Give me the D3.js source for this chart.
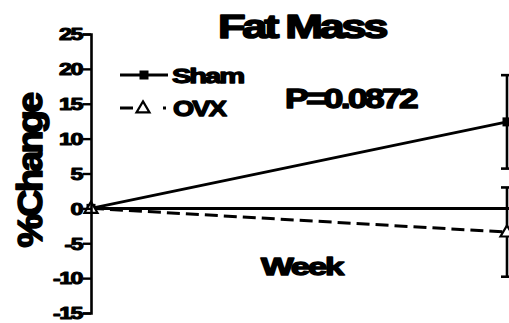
<!DOCTYPE html>
<html>
<head>
<meta charset="utf-8">
<script src="https://cdn.jsdelivr.net/npm/d3@7"></script>
<style>
  html, body { margin: 0; padding: 0; background: #fff; }
  svg { display: block; }
  text { font-family: "Liberation Sans", Arial, sans-serif; font-weight: bold; fill: #000;
         stroke: #000; stroke-linejoin: round; }
</style>
</head>
<body>
<svg id="chart" width="509" height="323"></svg>
<script>
// Fat mass, % change from baseline per group
const weeks = [0, 8];
const groups = ["Sham", "OVX"];
const shamMean = [0, 12.4];
const shamErr = [0, 6.7];
const ovxMean = [0, -3.4];
const ovxErr = [0, 6.4];
const yTicks = [25, 20, 15, 10, 5, 0, -5, -10, -15];
const titleText = "Fat Mass";
const pText = "P=0.0872";
const xLabel = "Week";
const yLabel = "%Change";

const svg = d3.select("#chart");
const W = 509, H = 323;

const x = d3.scaleLinear().domain([weeks[0], weeks[1]]).range([91, 507]);
const y = d3.scaleLinear().domain([-15, 25]).range([313, 34]);

// clip everything to the canvas so the right-hand point is cut at the edge
svg.append("defs").append("clipPath").attr("id", "plotclip")
  .append("rect").attr("x", 0).attr("y", 0).attr("width", W).attr("height", H);
const plot = svg.append("g").attr("clip-path", "url(#plotclip)");

// heavy condensed text helper
function label(g, str, xPos, yPos, size, len, sw, ls) {
  return g.append("text")
    .attr("x", xPos).attr("y", yPos)
    .attr("font-size", size)
    .attr("letter-spacing", ls)
    .attr("textLength", len)
    .attr("lengthAdjust", "spacingAndGlyphs")
    .attr("stroke-width", sw)
    .text(str);
}

// zero line (x axis)
plot.append("line")
  .attr("x1", x(weeks[0])).attr("x2", W + 5)
  .attr("y1", y(0)).attr("y2", y(0))
  .attr("stroke", "#000").attr("stroke-width", 3);

// y axis
const yAxis = d3.axisLeft(y).tickValues(yTicks).tickSize(8).tickPadding(1).tickFormat(d => String(d));
const ga = svg.append("g").attr("transform", `translate(${x(weeks[0])},0)`).call(yAxis);
ga.select(".domain").attr("stroke", "#000").attr("stroke-width", 2.6);
ga.selectAll(".tick line").attr("stroke", "#000").attr("stroke-width", 2.4);
ga.selectAll(".tick text")
  .attr("font-size", 16)
  .attr("font-family", "Liberation Sans, Arial, sans-serif")
  .attr("font-weight", "bold")
  .attr("fill", "#000")
  .attr("stroke", "#000")
  .attr("stroke-width", 1)
  .attr("letter-spacing", -1)
  .attr("dy", "0.36em")
  .attr("lengthAdjust", "spacingAndGlyphs")
  .attr("textLength", d => {
    const s = String(Math.abs(d));
    return s.length * 11.5 + (d < 0 ? 6 : 0);
  });

// series lines
const line = d3.line().x((d, i) => x(weeks[i])).y(d => y(d));
plot.append("path").datum(shamMean)
  .attr("d", line).attr("fill", "none")
  .attr("stroke", "#000").attr("stroke-width", 3);
plot.append("path").datum(ovxMean)
  .attr("d", line).attr("fill", "none")
  .attr("stroke", "#000").attr("stroke-width", 3)
  .attr("stroke-dasharray", "13,6");

// error bars
function errorBars(means, errs) {
  means.forEach((m, i) => {
    const e = errs[i];
    if (!e) return;
    const cx = x(weeks[i]);
    plot.append("line").attr("x1", cx).attr("x2", cx)
      .attr("y1", y(m + e)).attr("y2", y(m - e))
      .attr("stroke", "#000").attr("stroke-width", 2.6);
    [m + e, m - e].forEach(v => {
      plot.append("line").attr("x1", cx - 6).attr("x2", cx + 6)
        .attr("y1", y(v)).attr("y2", y(v))
        .attr("stroke", "#000").attr("stroke-width", 2.6);
    });
  });
}
errorBars(shamMean, shamErr);
errorBars(ovxMean, ovxErr);

// markers
const sq = 9;
function square(g, cx, cy) {
  g.append("rect").attr("x", cx - sq / 2).attr("y", cy - sq / 2)
    .attr("width", sq).attr("height", sq).attr("fill", "#000");
}
function triangle(g, cx, cy) {
  const w = 13, h = 11;
  g.append("path")
    .attr("d", `M${cx},${cy - h * 0.6}L${cx + w / 2},${cy + h * 0.4}L${cx - w / 2},${cy + h * 0.4}Z`)
    .attr("fill", "#fff").attr("stroke", "#000").attr("stroke-width", 2.2);
}
shamMean.forEach((m, i) => square(plot, x(weeks[i]), y(m)));
ovxMean.forEach((m, i) => triangle(plot, x(weeks[i]), y(m)));

// legend
const leg = svg.append("g");
leg.append("line").attr("x1", 120).attr("x2", 168).attr("y1", 75).attr("y2", 75)
  .attr("stroke", "#000").attr("stroke-width", 3);
square(leg, 144, 75);
label(leg, groups[0], 172, 83, 21, 71, 1.3, -1.5);

leg.append("line").attr("x1", 120).attr("x2", 168).attr("y1", 108).attr("y2", 108)
  .attr("stroke", "#000").attr("stroke-width", 3)
  .attr("stroke-dasharray", "13,30,3");
triangle(leg, 143, 108);
label(leg, groups[1], 173, 116, 22, 52, 1.3, -1.5);

// titles and annotations
label(svg, titleText, 218, 38, 34, 167, 1.6, -2.5);
label(svg, pText, 285, 108, 27, 131, 1.4, -2);
label(svg, xLabel, 261, 275, 23, 81, 1.3, -1.5);
svg.append("text")
  .attr("transform", "translate(42,171) rotate(-90)")
  .attr("text-anchor", "middle")
  .attr("font-size", 35)
  .attr("letter-spacing", -2.5)
  .attr("stroke-width", 1.6)
  .attr("textLength", 153)
  .attr("lengthAdjust", "spacingAndGlyphs")
  .text(yLabel);
</script>
</body>
</html>
